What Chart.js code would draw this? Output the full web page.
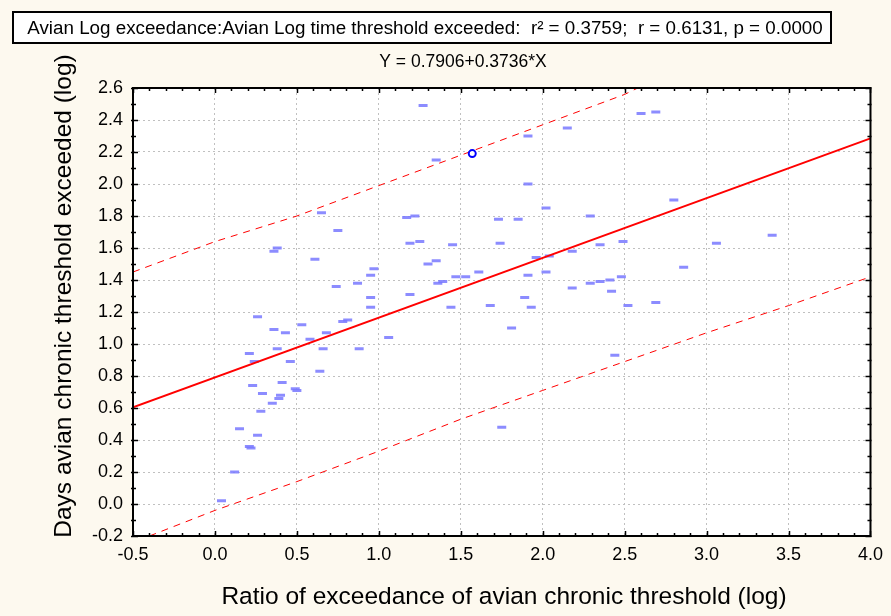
<!DOCTYPE html>
<html><head><meta charset="utf-8">
<script src="https://cdn.jsdelivr.net/npm/chart.js@4/dist/chart.umd.min.js"></script>
<style>html,body{margin:0;padding:0;background:#fdf9ef;}#wrap{width:891px;height:616px;}</style>
</head><body><div id="wrap"><canvas id="c" width="891" height="616"></canvas></div>
<script>
const titleText = "Avian Log exceedance:Avian Log time threshold exceeded:  r\u00B2 = 0.3759;  r = 0.6131, p = 0.0000";
const equationText = "Y = 0.7906+0.3736*X";
const xTitle = "Ratio of exceedance of avian chronic threshold (log)";
const yTitle = "Days avian chronic threshold exceeded (log)";

const xTicks = [-0.5, 0.0, 0.5, 1.0, 1.5, 2.0, 2.5, 3.0, 3.5, 4.0];
const yTicks = [-0.2, 0.0, 0.2, 0.4, 0.6, 0.8, 1.0, 1.2, 1.4, 1.6, 1.8, 2.0, 2.2, 2.4, 2.6];

const ratioX = [1.27,0.65,1.17,1.22,0.75,0.38,0.36,1.19,1.25,0.61,1.30,0.97,0.95,0.74,0.87,1.19,0.95,0.95,
  0.26,0.53,0.36,0.43,0.78,0.81,0.68,0.58,1.06,0.21,0.38,0.66,0.88,0.24,0.46,0.64,0.23,0.41,0.49,0.50,
  0.29,0.40,0.39,0.35,0.28,0.15,0.26,0.21,0.22,0.12,0.04,1.35,1.91,2.15,2.60,2.69,1.91,2.02,1.73,1.85,
  2.29,1.45,1.74,2.49,2.35,1.35,1.96,2.04,2.18,1.47,1.53,1.61,1.36,1.39,1.91,2.02,2.18,2.29,2.35,2.41,
  2.48,2.42,1.89,1.44,1.68,1.93,2.52,1.81,2.44,1.75,2.80,3.06,3.40,2.86,2.69];
const daysY = [2.49,1.82,1.79,1.80,1.71,1.60,1.58,1.63,1.64,1.53,1.50,1.47,1.43,1.36,1.38,1.31,1.29,1.23,
  1.17,1.12,1.09,1.07,1.14,1.15,1.07,1.03,1.04,0.94,0.97,0.97,0.97,0.89,0.89,0.83,0.74,0.76,0.72,0.71,
  0.69,0.68,0.66,0.63,0.58,0.47,0.43,0.36,0.35,0.20,0.02,2.15,2.30,2.35,2.44,2.45,2.00,1.85,1.78,1.78,
  1.80,1.62,1.63,1.64,1.62,1.52,1.54,1.55,1.58,1.42,1.42,1.45,1.38,1.39,1.43,1.45,1.35,1.38,1.39,1.40,
  1.42,1.33,1.29,1.23,1.24,1.23,1.24,1.10,0.93,0.48,1.90,1.63,1.68,1.48,1.26];
const selectedX = [1.57];
const selectedY = [2.19];

const regX = [-0.5, 4.0];
const regY = [0.604, 2.285];
const upperX = [-0.5, 0.0, 0.5, 1.0, 1.5, 2.0, 2.5, 2.58];
const upperY = [1.45, 1.64, 1.80, 1.99, 2.18, 2.37, 2.56, 2.60];
const lowerX = [-0.40, 0.0, 0.5, 1.0, 1.5, 2.0, 2.5, 3.0, 3.5, 4.0];
const lowerY = [-0.20, -0.04, 0.14, 0.33, 0.53, 0.71, 0.89, 1.07, 1.24, 1.42];

const pts = (xs, ys) => xs.map((x, i) => ({x: x, y: ys[i]}));
const FONT = "'Liberation Sans', Arial, sans-serif";

const decor = {
  id: 'decor',
  beforeDraw(chart) {
    const {ctx, chartArea: a} = chart;
    ctx.save();
    ctx.fillStyle = '#fdf9ef';
    ctx.fillRect(0, 0, chart.width, chart.height);
    ctx.fillStyle = '#ffffff';
    ctx.fillRect(a.left, a.top, a.right - a.left, a.bottom - a.top);
    ctx.restore();
  },
  afterDraw(chart) {
    const {ctx, chartArea: a} = chart;
    const xs = chart.scales.x, ys = chart.scales.y;
    ctx.save();
    ctx.strokeStyle = '#000';
    ctx.lineWidth = 1.5;
    ctx.beginPath();
    for (let i = 0; i <= 45; i++) {
      const v = -0.5 + i * 0.1;
      const px = Math.round(xs.getPixelForValue(v)) + 0.5;
      const L = (i % 5 === 0) ? 5 : 3;
      ctx.moveTo(px, a.bottom + 1); ctx.lineTo(px, a.bottom - L);
      ctx.moveTo(px, a.top - 1); ctx.lineTo(px, a.top + L);
    }
    for (let i = 0; i <= 28; i++) {
      const v = -0.2 + i * 0.1;
      const py = Math.round(ys.getPixelForValue(v)) + 0.5;
      const L = (i % 2 === 0) ? 5 : 3;
      ctx.moveTo(a.left - 2, py); ctx.lineTo(a.left + L, py);
      ctx.moveTo(a.right + 1, py); ctx.lineTo(a.right - L, py);
    }
    ctx.stroke();
    ctx.lineWidth = 2;
    ctx.strokeRect(a.left, a.top, a.right - a.left, a.bottom - a.top);
    ctx.fillStyle = '#ffffff';
    ctx.fillRect(13, 12, 818, 31);
    ctx.strokeRect(13, 12, 818, 31);
    ctx.fillStyle = '#000';
    ctx.textAlign = 'center';
    ctx.textBaseline = 'middle';
    ctx.font = '18.8px ' + FONT;
    ctx.fillText(titleText, 425, 28.5);
    ctx.font = '17.5px ' + FONT;
    ctx.fillText(equationText, 463, 62);
    ctx.font = '24.5px ' + FONT;
    ctx.fillText(xTitle, 504, 597);
    ctx.translate(64, 296);
    ctx.rotate(-Math.PI / 2);
    ctx.fillText(yTitle, 0, 0);
    ctx.restore();
  }
};

new Chart(document.getElementById('c'), {
  type: 'scatter',
  data: {
    datasets: [
      {label: 'selected', data: pts(selectedX, selectedY), pointStyle: 'circle', pointRadius: 3.5,
       borderColor: '#0000ff', backgroundColor: '#ffffff', borderWidth: 2, order: 0},
      {label: 'regression', type: 'line', data: pts(regX, regY), borderColor: '#ff0000', borderWidth: 2,
       pointRadius: 0, tension: 0, fill: false, order: 1},
      {label: 'upper', type: 'line', data: pts(upperX, upperY), borderColor: '#ff0000', borderWidth: 1,
       borderDash: [7, 6], pointRadius: 0, tension: 0, fill: false, order: 2},
      {label: 'lower', type: 'line', data: pts(lowerX, lowerY), borderColor: '#ff0000', borderWidth: 1,
       borderDash: [7, 6], pointRadius: 0, tension: 0, fill: false, order: 3},
      {label: 'data', data: pts(ratioX, daysY), pointStyle: 'line', pointRadius: 4.5,
       borderColor: 'rgba(120,120,255,0.85)', backgroundColor: 'rgba(120,120,255,0.85)', borderWidth: 3, order: 4}
    ]
  },
  options: {
    responsive: false,
    animation: false,
    devicePixelRatio: 1,
    layout: {padding: {top: 88, right: 13, left: 0, bottom: 0}},
    plugins: {legend: {display: false}, tooltip: {enabled: false}},
    scales: {
      x: {
        type: 'linear', min: -0.5, max: 4.0,
        afterBuildTicks: s => { s.ticks = xTicks.map(v => ({value: v})); },
        afterFit: s => { s.height = 80; },
        ticks: {callback: v => v.toFixed(1), color: '#000', padding: 8, maxRotation: 0,
                font: {family: FONT, size: 18}},
        grid: {color: '#c0c0c0', lineWidth: 1, drawTicks: false},
        border: {display: false, dash: [2, 3]}
      },
      y: {
        type: 'linear', min: -0.2, max: 2.6,
        afterBuildTicks: s => { s.ticks = yTicks.map(v => ({value: v})); },
        afterFit: s => { s.width = 133; },
        ticks: {callback: v => v.toFixed(1), color: '#000', padding: 10,
                font: {family: FONT, size: 18}},
        grid: {color: '#c0c0c0', lineWidth: 1, drawTicks: false},
        border: {display: false, dash: [2, 3]}
      }
    }
  },
  plugins: [decor]
});
</script></body></html>
